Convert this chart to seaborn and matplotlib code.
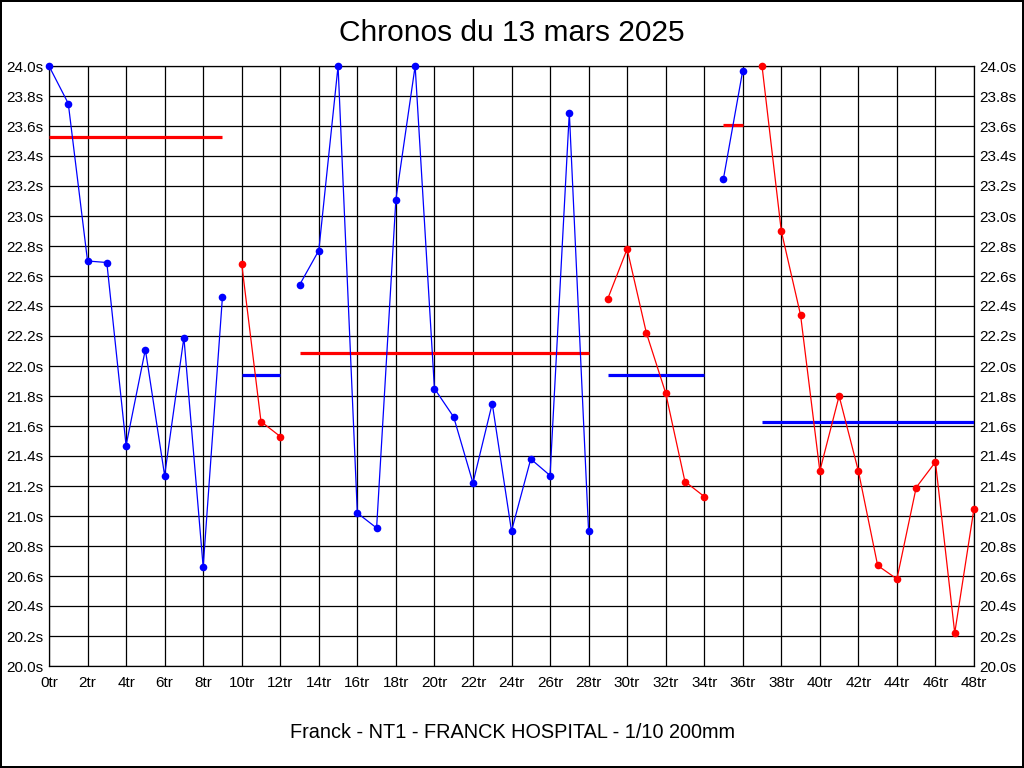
import numpy as np
import pandas as pd
import seaborn as sns
import matplotlib
matplotlib.use("Agg")
import matplotlib.pyplot as plt
from matplotlib.ticker import MultipleLocator, FuncFormatter

# tours et chronos
tours = list(range(49))
chronos = [24.0, 23.75, 22.70, 22.69, 21.47, 22.11, 21.27, 22.19, 20.66, 22.46,
           22.68, 21.63, 21.53,
           22.54, 22.77, 24.0, 21.02, 20.92, 23.11, 24.0, 21.85, 21.66, 21.22,
           21.75, 20.90, 21.38, 21.27, 23.69, 20.90,
           22.45, 22.78, 22.22, 21.82, 21.23, 21.13,
           23.25, 23.97,
           24.0, 22.90, 22.34, 21.30, 21.80, 21.30, 20.67, 20.58, 21.19, 21.36,
           20.22, 21.05]
serie = ["bleu"] * 10 + ["rouge"] * 3 + ["bleu"] * 16 + ["rouge"] * 6 + ["bleu"] * 2 + ["rouge"] * 12
segment = [0] * 10 + [1] * 3 + [2] * 16 + [3] * 6 + [4] * 2 + [5] * 12

# lignes de moyenne
moy_debut = [0, 10, 13, 29, 35, 37]
moy_fin = [9, 12, 28, 34, 36, 48]
moy_val = [23.53, 21.94, 22.09, 21.94, 23.61, 21.625]
moy_couleur = ["red", "blue", "red", "blue", "red", "blue"]

df = pd.DataFrame({"tour": tours, "chrono": chronos, "serie": serie, "segment": segment})

sns.set_style("white")
plt.rcParams['font.family'] = ['Liberation Sans', 'DejaVu Sans']

fig = plt.figure(figsize=(10.24, 7.68), dpi=100)
fig.patch.set_edgecolor("black")
fig.patch.set_linewidth(1.5)
ax = fig.add_axes([49 / 1024, 102 / 768, 925 / 1024, 600 / 768])

ax.hlines(moy_val, moy_debut, moy_fin, colors=moy_couleur, linewidth=2.3, zorder=3)

sns.lineplot(data=df, x="tour", y="chrono", hue="serie", units="segment", estimator=None,
             palette={"bleu": "blue", "rouge": "red"}, marker="o", markersize=5.5,
             markeredgewidth=0, linewidth=0.9, legend=False, ax=ax, clip_on=False, zorder=4)

ax.set_xlim(0, 48)
ax.set_ylim(20.0, 24.0)
ax.xaxis.set_major_locator(MultipleLocator(2))
ax.yaxis.set_major_locator(MultipleLocator(0.2))
ax.xaxis.set_major_formatter(FuncFormatter(lambda v, p: "%dtr" % round(v)))
ax.yaxis.set_major_formatter(FuncFormatter(lambda v, p: "%.1fs" % v))
ax.grid(True, color="black", linewidth=0.9)
ax.set_axisbelow(True)
ax.tick_params(axis="both", length=0, labelsize=11, colors="black", pad=4)
ax.tick_params(axis="x", pad=7)
ax.tick_params(axis="y", right=True, labelright=True)
ax.set_xlabel("")
ax.set_ylabel("")
for s in ax.spines.values():
    s.set_color("black")
    s.set_linewidth(0.9)

fig.text(0.5, 1 - 33 / 768, "Chronos du 13 mars 2025", fontsize=21.5, color="black",
         ha="center", va="center")
fig.text(0.5, 1 - 733 / 768, "Franck - NT1 - FRANCK HOSPITAL - 1/10 200mm", fontsize=14.3,
         color="black", ha="center", va="center")

fig.savefig("out.png", dpi=100, edgecolor=fig.get_edgecolor())
